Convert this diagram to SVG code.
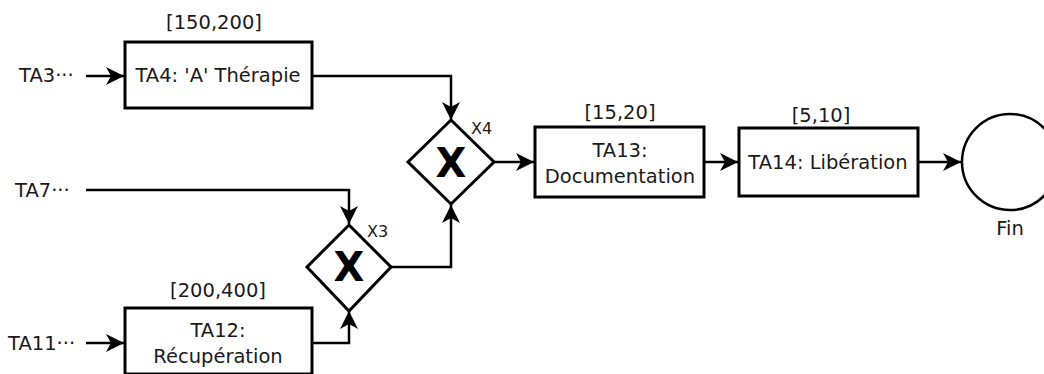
<svg xmlns="http://www.w3.org/2000/svg" width="1044" height="374" viewBox="0 0 1044 374">
<style>
.box{fill:#fff;stroke:#000;stroke-width:3}
.gw{fill:#fff;stroke:#000;stroke-width:3}
.t{font-family:"DejaVu Sans",sans-serif;font-size:19.5px;fill:#1a1a1a;text-anchor:middle}
.l{font-family:"DejaVu Sans",sans-serif;font-size:19.5px;fill:#1a1a1a}
.s{font-family:"DejaVu Sans",sans-serif;font-size:16px;fill:#1a1a1a}
.x{font-family:"DejaVu Sans",sans-serif;font-size:40px;font-weight:bold;fill:#000;text-anchor:middle}
.c{fill:none;stroke:#000;stroke-width:2.5}
</style>
<defs>
<marker id="ah" markerWidth="20" markerHeight="20" refX="18" refY="9" orient="auto" markerUnits="userSpaceOnUse">
<path d="M0,0 L18,9 L0,18 L5,9 Z" fill="#000"/>
</marker>
</defs>
<g id="connectors">
<path class="c" d="M86,76 H124" marker-end="url(#ah)"/>
<path class="c" d="M312,76 H451 V120" marker-end="url(#ah)"/>
<path class="c" d="M86,190 H349 V224" marker-end="url(#ah)"/>
<path class="c" d="M86,343 H124" marker-end="url(#ah)"/>
<path class="c" d="M312,343 H349 V311" marker-end="url(#ah)"/>
<path class="c" d="M391,267 H451 V205" marker-end="url(#ah)"/>
<path class="c" d="M494,162 H534" marker-end="url(#ah)"/>
<path class="c" d="M704,162 H738" marker-end="url(#ah)"/>
<path class="c" d="M918,162 H961" marker-end="url(#ah)"/>
</g>
<g id="TA3"><text class="l" x="19" y="82">TA3···</text></g>
<g id="TA7"><text class="l" x="15" y="197">TA7···</text></g>
<g id="TA11"><text class="l" x="8" y="350">TA11···</text></g>
<g id="TA4">
<text class="t" x="214" y="29">[150,200]</text>
<rect class="box" x="125" y="42" width="187" height="66"/>
<text class="t" x="218" y="82">TA4: 'A' Thérapie</text>
</g>
<g id="TA12">
<text class="t" x="218" y="297">[200,400]</text>
<rect class="box" x="125" y="308" width="187" height="66"/>
<text class="t" x="218" y="337">TA12:</text>
<text class="t" x="218" y="363">Récupération</text>
</g>
<g id="X3">
<polygon class="gw" points="349,225 391,267 349,311 307,267"/>
<text class="x" x="349" y="281">X</text>
<text class="s" x="367" y="237">X3</text>
</g>
<g id="X4">
<polygon class="gw" points="451,120 494,162 451,204 408,162"/>
<text class="x" x="451" y="177">X</text>
<text class="s" x="471" y="134">X4</text>
</g>
<g id="TA13">
<text class="t" x="620" y="119">[15,20]</text>
<rect class="box" x="535" y="127" width="169" height="70"/>
<text class="t" x="620" y="157">TA13:</text>
<text class="t" x="620" y="183">Documentation</text>
</g>
<g id="TA14">
<text class="t" x="821" y="122">[5,10]</text>
<rect class="box" x="739" y="128" width="179" height="68"/>
<text class="t" x="828" y="169">TA14: Libération</text>
</g>
<g id="Fin">
<circle cx="1010" cy="162" r="48" fill="#fff" stroke="#000" stroke-width="2.5"/>
<text class="t" x="1010" y="235">Fin</text>
</g>
</svg>
